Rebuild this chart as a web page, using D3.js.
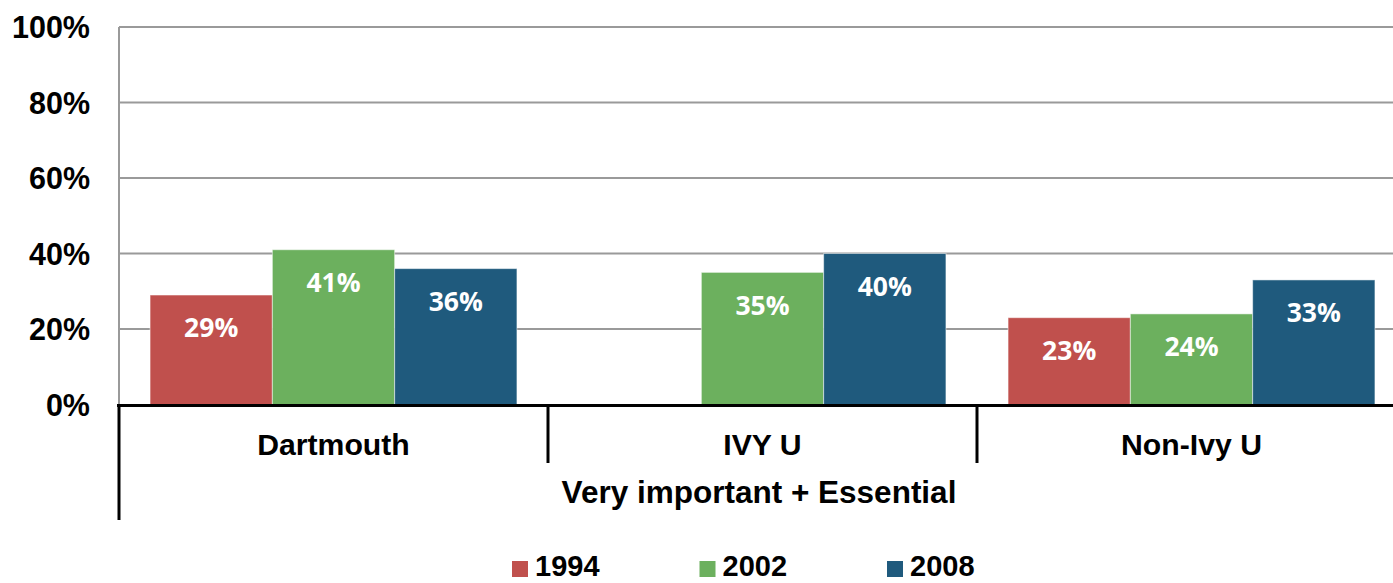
<!DOCTYPE html>
<html>
<head>
<meta charset="utf-8">
<script src="https://cdn.jsdelivr.net/npm/d3@7"></script>
<style>
  body { margin: 0; background: #fff; }
  svg { display: block; }
</style>
</head>
<body>
<div id="viz"></div>
<script>
var categories = ['Dartmouth', 'IVY U', 'Non-Ivy U']
var years = ['1994', '2002', '2008']
var values1994 = [29, null, 23]
var values2002 = [41, 35, 24]
var values2008 = [36, 40, 33]
var yTicks = [0, 20, 40, 60, 80, 100]
var groupLabel = 'Very important + Essential'

var colors = {'1994': '#c0504d', '2002': '#6cb05e', '2008': '#1f5a7d'}

var width = 1393, height = 583
var margin = {top: 27, left: 119}
var plotRight = 1406, plotBottom = 404.5

var series = {'1994': values1994, '2002': values2002, '2008': values2008}

var svg = d3.select('#viz').append('svg')
  .attr('width', width)
  .attr('height', height)
  .style('font-family', '"Liberation Sans", Arial, sans-serif')

var yScale = d3.scaleLinear()
  .domain([0, 100])
  .range([plotBottom, margin.top])

var xScale = d3.scaleBand()
  .domain(categories)
  .range([margin.left, plotRight])

var xInner = d3.scaleBand()
  .domain(years)
  .range([0, xScale.bandwidth()])
  .paddingInner(0)
  .paddingOuter(0.254)

// gridlines
svg.append('g').selectAll('line')
  .data(yTicks.filter(function(d) { return d > 0 }))
  .enter().append('line')
  .attr('x1', margin.left).attr('x2', plotRight)
  .attr('y1', function(d) { return yScale(d) })
  .attr('y2', function(d) { return yScale(d) })
  .attr('stroke', '#9a9a9a')
  .attr('stroke-width', 2)

// left axis line
svg.append('line')
  .attr('x1', margin.left).attr('x2', margin.left)
  .attr('y1', margin.top).attr('y2', plotBottom)
  .attr('stroke', '#9a9a9a').attr('stroke-width', 2)

// y labels
var yAxis = d3.axisLeft(yScale).tickValues(yTicks)
  .tickFormat(function(d) { return d + '%' })
  .tickSize(0).tickPadding(0)
var yG = svg.append('g')
  .attr('transform', 'translate(90,0)')
  .call(yAxis)
yG.select('.domain').remove()
yG.selectAll('text')
  .attr('dy', '0.36em')
  .style('font-size', '30.5px')
  .style('font-weight', 'bold')
  .style('font-family', '"Liberation Sans", Arial, sans-serif')
  .attr('fill', '#000')

// bars
var barData = []
categories.forEach(function(c, i) {
  years.forEach(function(y) {
    barData.push({cat: c, year: y, value: series[y][i]})
  })
})
var shown = barData.filter(function(d) { return d.value != null })

var bars = svg.append('g').selectAll('g')
  .data(shown)
  .enter().append('g')
  .attr('transform', function(d) {
    return 'translate(' + (xScale(d.cat) + xInner(d.year)) + ',0)'
  })

bars.append('rect')
  .attr('x', 0)
  .attr('width', xInner.bandwidth())
  .attr('y', function(d) { return yScale(d.value) })
  .attr('height', function(d) { return plotBottom - yScale(d.value) })
  .attr('fill', function(d) { return colors[d.year] })
  .attr('stroke', 'rgba(255,255,255,0.5)')
  .attr('stroke-width', 1)

bars.append('text')
  .attr('x', xInner.bandwidth() / 2)
  .attr('y', function(d) { return yScale(d.value) + 33 })
  .attr('dy', '0.35em')
  .attr('text-anchor', 'middle')
  .attr('fill', '#fff')
  .style('font-family', '"Open Sans", sans-serif')
  .style('font-weight', 'bold')
  .style('font-size', '26.5px')
  .text(function(d) { return d.value + '%' })

// x axis baseline
svg.append('line')
  .attr('x1', margin.left - 2).attr('x2', plotRight)
  .attr('y1', plotBottom + 1).attr('y2', plotBottom + 1)
  .attr('stroke', '#000').attr('stroke-width', 3)

// category separators
var seps = categories.map(function(c) { return xScale(c) })
svg.append('g').selectAll('line')
  .data(seps)
  .enter().append('line')
  .attr('x1', function(d) { return d }).attr('x2', function(d) { return d })
  .attr('y1', plotBottom)
  .attr('y2', function(d, i) { return i === 0 ? 520 : 463 })
  .attr('stroke', '#000').attr('stroke-width', 3)

// category labels
svg.append('g').selectAll('text')
  .data(categories)
  .enter().append('text')
  .attr('x', function(d) { return xScale(d) + xScale.bandwidth() / 2 })
  .attr('y', 455)
  .attr('text-anchor', 'middle')
  .style('font-size', '30.2px')
  .style('font-weight', 'bold')
  .text(function(d) { return d })

svg.append('text')
  .attr('x', 759)
  .attr('y', 503)
  .attr('text-anchor', 'middle')
  .style('font-size', '31.5px')
  .style('font-weight', 'bold')
  .text(groupLabel)

// legend
var legend = svg.append('g').selectAll('g')
  .data(years)
  .enter().append('g')
  .attr('transform', function(d, i) { return 'translate(' + (512 + i * 187.5) + ',0)' })

legend.append('rect')
  .attr('x', 0).attr('y', 561)
  .attr('width', 16).attr('height', 16)
  .attr('fill', function(d) { return colors[d] })

legend.append('text')
  .attr('x', 23).attr('y', 576)
  .style('font-size', '29px')
  .style('font-weight', 'bold')
  .text(function(d) { return d })
</script>
</body>
</html>
